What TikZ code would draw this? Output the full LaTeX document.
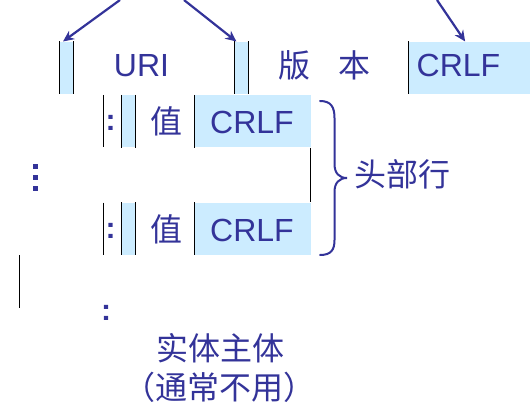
\documentclass[tikz,border=0pt]{standalone}
\usepackage{fontspec}
\setmainfont{Liberation Sans}
\newfontfamily\cjk{Noto Sans CJK SC}
\usetikzlibrary{arrows.meta}
\definecolor{ink}{HTML}{333399}
\definecolor{lb}{HTML}{CCECFF}
\begin{document}
\begin{tikzpicture}[x=1pt,y=-1pt,
  txt/.style={text=ink, font=\fontsize{32}{38}\selectfont, inner sep=0pt},
  colon/.style={text=ink, font=\fontsize{30}{36}\selectfont\bfseries, inner sep=0pt},
  field/.style={fill=lb, draw=none, inner sep=0pt},
  rule/.style={black, line width=0.9pt},
  pointer/.style={ink, line width=2.2pt, -{Stealth[length=11pt,width=10pt]}},
  bracestyle/.style={ink, line width=2pt, line cap=round}]
\useasboundingbox (0,0) rectangle (530,414);

% ---- row 1 (request line) ----
\node[field, minimum width=13.8pt, minimum height=52.6pt] (sp1) at (66.4,68) {};
\node[field, minimum width=13.8pt, minimum height=52.6pt] (sp2) at (241.4,68) {};
\node[field, minimum width=121.7pt, minimum height=52.6pt] (cr1) at (469.15,68) {};
\draw[rule] (sp1.north west) -- (sp1.south west);
\draw[rule] (sp1.north east) -- (sp1.south east);
\draw[rule] (sp2.north west) -- (sp2.south west);
\draw[rule] (sp2.north east) -- (sp2.south east);
\draw[rule] (cr1.north west) -- (cr1.south west);
\node[txt, anchor=base] (uri) at (141.5,77) {URI};
\node[txt, anchor=base] (ver) at (324,78) {\cjk 版\hspace{28pt}本};
\node[txt, anchor=base] (crlf1) at (458.5,77) {CRLF};

% ---- arrows ----
\coordinate (a1) at (120,0);
\coordinate (a2) at (184,0);
\coordinate (a3) at (437,0);
\draw[pointer] (a1) -- ([xshift=-3.4pt]sp1.north);
\draw[pointer] (a2) -- ([xshift=-5pt]sp2.north);
\draw[pointer] (a3) -- ([xshift=-4pt]cr1.north);

% ---- row 2 (header line) ----
\node[field, minimum width=13.3pt, minimum height=52.5pt] (sp3) at (128.35,121.25) {};
\node[field, minimum width=115.7pt, minimum height=52.5pt] (cr2) at (252.85,121.25) {};
\draw[rule] (103.3,95) -- (103.3,147.5);
\draw[rule] (sp3.north west) -- (sp3.south west);
\draw[rule] (sp3.north east) -- (sp3.south east);
\draw[rule] (cr2.north west) -- (cr2.south west);
\node[colon, anchor=base] (col2) at (110.5,131) {:};
\node[txt, anchor=base] (val2) at (166,134) {\cjk 值};
\node[txt, anchor=base] (crlf2) at (252,134) {CRLF};

% ---- row 3 (header line) ----
\node[field, minimum width=13.3pt, minimum height=52pt] (sp4) at (128.35,228.7) {};
\node[field, minimum width=115.7pt, minimum height=52pt] (cr3) at (252.85,228.7) {};
\draw[rule] (103.3,202.7) -- (103.3,255);
\draw[rule] (sp4.north west) -- (sp4.south west);
\draw[rule] (sp4.north east) -- (sp4.south east);
\draw[rule] (cr3.north west) -- (cr3.south west);
\node[colon, anchor=base] (col3) at (110.5,238.7) {:};
\node[txt, anchor=base] (val3) at (166,241.5) {\cjk 值};
\node[txt, anchor=base] (crlf3) at (252,241.5) {CRLF};

% right edge between header rows
\draw[rule] (cr2.south east) -- (cr3.north east);

% vertical dots
\fill[ink] (32.5,164.5) rectangle (37.5,169.5);
\fill[ink] (32.5,175.5) rectangle (37.5,180.5);
\fill[ink] (32.5,186.5) rectangle (37.5,191.5);

% brace and label
\draw[bracestyle] (320,101) .. controls (331,101) and (334.5,107) .. (334.5,118)
  -- (334.5,164) .. controls (334.5,173) and (339,178) .. (347,178)
  .. controls (339,178) and (334.5,183) .. (334.5,192)
  -- (334.5,240) .. controls (334.5,250) and (331,255) .. (320,255);
\node[txt, anchor=base] (hdr) at (402,187) {\cjk 头部行};

% ---- bottom ----
\draw[rule] (19.3,255) -- (19.3,308.3);
\node[colon, anchor=base] (col4) at (106,320) {:};
\node[txt, anchor=base] (body) at (220,360) {\cjk 实体主体};
\node[txt, anchor=base] (note) at (219,399) {\cjk （通常不用）};
\end{tikzpicture}
\end{document}
